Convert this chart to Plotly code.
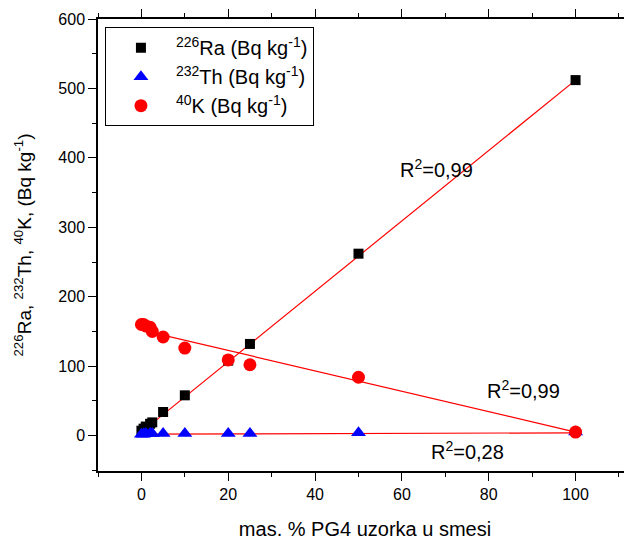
import plotly.graph_objects as go

# Data
x_mass = [0, 0.5, 1, 2, 2.5, 5, 10, 20, 25, 50, 100]
ra226 = [7, 10, 13, 17, 19, 34, 58, 108, 132, 262, 512]
th232 = [2, 2, 3, 3, 3, 3, 3, 3, 3, 4, 5]
th232_err = [4, 4, 4, 4, 4, 4, 4, 4, 4, 4, 4]
k40 = [160, 160, 158, 156, 150, 142, 126, 109, 102, 84, 5]

fit_x = [0, 100]
ra_fit = [5, 512]
th_fit = [2, 4]
k_fit = [152, 5]

r2_labels = ["R<sup>2</sup>=0,99", "R<sup>2</sup>=0,99", "R<sup>2</sup>=0,28"]
r2_x = [68, 88, 75]
r2_y = [385, 67, -21]

FONT = "Arial, Liberation Sans, sans-serif"

fig = go.Figure()

# fit lines
for fy in (ra_fit, k_fit, th_fit):
    fig.add_trace(go.Scatter(x=fit_x, y=fy, mode="lines",
                             line=dict(color="red", width=1.2),
                             showlegend=False, hoverinfo="skip"))

fig.add_trace(go.Scatter(x=x_mass, y=ra226, mode="markers",
                         name="<sup>226</sup>Ra (Bq kg<sup>-1</sup>)",
                         marker=dict(symbol="square", size=10, color="black")))
fig.add_trace(go.Scatter(x=x_mass, y=th232, mode="markers",
                         name="<sup>232</sup>Th (Bq kg<sup>-1</sup>)",
                         error_y=dict(type="data", array=th232_err, color="blue",
                                      thickness=1, width=0),
                         marker=dict(symbol="triangle-up", size=13, color="blue")))
fig.add_trace(go.Scatter(x=x_mass, y=k40, mode="markers",
                         name="<sup>40</sup>K (Bq kg<sup>-1</sup>)",
                         marker=dict(symbol="circle", size=13, color="red")))

for t, ax, ay in zip(r2_labels, r2_x, r2_y):
    fig.add_annotation(x=ax, y=ay, text=t, showarrow=False,
                       font=dict(family=FONT, size=20, color="black"))

axis_common = dict(
    showgrid=False, zeroline=False, showline=True, linecolor="black", linewidth=1.5,
    ticks="outside", ticklen=8, tickwidth=1.2, tickcolor="black",
    tickfont=dict(family=FONT, size=16, color="black"), automargin=False,
)

fig.update_xaxes(range=[-10, 113], tickvals=[0, 20, 40, 60, 80, 100], mirror="ticks",
                 minor=dict(ticks="outside", ticklen=4, dtick=10, tick0=0, tickcolor="black"),
                 title=dict(text="mas. % PG4 uzorka u smesi",
                            font=dict(family=FONT, size=20, color="black"), standoff=20),
                 **axis_common)
fig.update_yaxes(range=[-51, 600], tickvals=[0, 100, 200, 300, 400, 500, 600], mirror=False,
                 minor=dict(ticks="outside", ticklen=4, dtick=50, tick0=0, tickcolor="black"),
                 title=dict(text="<sup>226</sup>Ra, <sup>232</sup>Th, <sup>40</sup>K, (Bq kg<sup>-1</sup>)",
                            font=dict(family=FONT, size=19, color="black"), standoff=22),
                 **axis_common)

# page body has an 8px margin; figure sized/offset to compensate
fig.update_layout(
    width=624, height=534,
    margin=dict(l=90, r=0, t=11, b=71),
    plot_bgcolor="white", paper_bgcolor="white",
    font=dict(family=FONT, color="black"),
    legend=dict(x=0.013, y=0.982, xanchor="left", yanchor="top",
                bordercolor="black", borderwidth=1, bgcolor="white",
                font=dict(family=FONT, size=20, color="black"),
                tracegroupgap=0, itemwidth=60),
)

fig.write_html("out.html")
